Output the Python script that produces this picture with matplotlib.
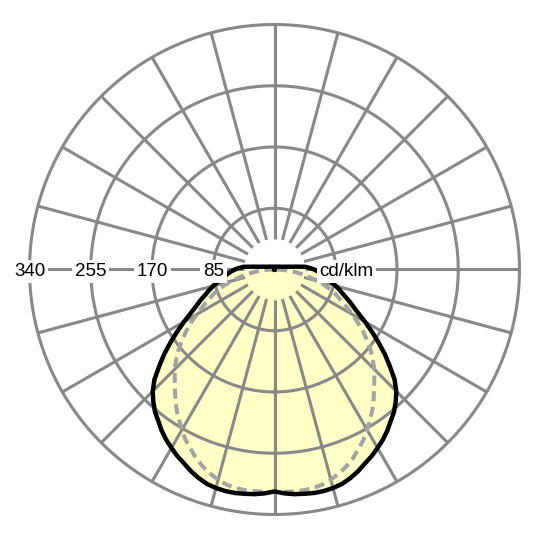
import numpy as np
import matplotlib.pyplot as plt

plt.rcParams['font.family'] = ['Liberation Sans', 'DejaVu Sans']

# ---- data (cd/klm), angle measured from nadir, one half, mirrored ----
angles_deg = [0, 2.5, 5, 7.5, 10, 12.5, 15, 17.5, 20, 22.5, 25, 27.5, 30,
              32.5, 35, 37.5, 40, 42.5, 45, 47.5, 50, 52.5, 55, 57.5, 60,
              62.5, 65, 67.5, 70, 72.5, 75, 77.5, 80, 82.5, 85, 87.5, 90,
              92.5, 95, 97.5, 100, 105, 110, 120, 135, 150, 165, 180]
c0_c180 = [308, 311, 313, 314, 315, 315, 314, 312, 308, 303, 297, 292, 286,
           280, 273, 265, 258, 249, 239, 226, 209, 193, 176, 160, 145,
           131, 120, 111, 102, 95, 88, 81, 74, 69, 65, 60, 55,
           49, 43, 30, 22, 15, 11, 8, 5.5, 4.5, 4, 0]
c90_c270 = [309, 309, 309, 309, 308, 306, 302, 297, 291, 284, 275, 267, 257,
            247, 237, 226, 215, 205, 196, 185, 174, 162, 150, 137, 125,
            113, 102, 93, 84, 73, 62, 50, 40, 30, 20, 10, 0,
            0, 0, 0, 0, 0, 0, 0, 0, 0, 0, 0]

ring_values = [85, 170, 255, 340]
ring_labels = ['85', '170', '255', '340']
unit_label = 'cd/klm'
spoke_step = 15
spoke_start = 42.5
unit_pos = 100

grid_col = '#888888'
dash_col = '#a3a3a3'
fill_col = '#ffffc6'


def full_curve(ang, val):
    a = np.radians(ang)
    v = np.asarray(val, dtype=float)
    th = np.concatenate([-a[::-1], a[1:]])
    r = np.concatenate([v[::-1], v[1:]])
    return th, r


fig = plt.figure(figsize=(5.4, 5.4), dpi=100)
ax = fig.add_axes([0.048, 0.0406, 0.9207, 0.9207], projection='polar')
ax.set_theta_zero_location('S')
ax.set_ylim(0, 345)
ax.axis('off')

# fill under main curve
th0, r0 = full_curve(angles_deg, c0_c180)
ax.fill(th0, r0, color=fill_col, lw=0, zorder=1)

# grid
circ = np.linspace(0, 2 * np.pi, 721)
for rv in ring_values:
    ax.plot(circ, np.full_like(circ, rv), color=grid_col, lw=2.2, zorder=2,
            clip_on=False)
for deg in range(0, 360, spoke_step):
    t = np.radians(deg)
    ax.plot([t, t], [spoke_start, ring_values[-1]], color=grid_col, lw=2.2,
            zorder=2, clip_on=False, solid_capstyle='butt')

# curves
th1, r1 = full_curve(angles_deg, c90_c270)
ax.plot(th1, r1, color=dash_col, lw=2.9, ls=(0, (2.5, 1.4)), zorder=3)
ax.plot(th0, r0, color='black', lw=3.2, zorder=4, solid_joinstyle='round')

# labels
box = dict(boxstyle='square,pad=0.15', fc='white', ec='none')
for rv, lab in zip(ring_values, ring_labels):
    ax.text(np.radians(-90), rv, lab, ha='center', va='center_baseline',
            fontsize=13.5, bbox=box, zorder=5)
ax.text(np.radians(90), unit_pos, unit_label, ha='center',
        va='center_baseline', fontsize=13.5, bbox=box, zorder=5)

fig.savefig('out.png', dpi=100)
